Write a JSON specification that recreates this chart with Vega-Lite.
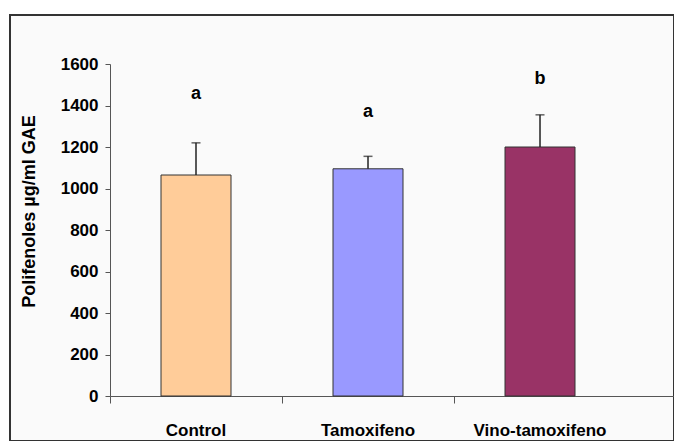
{
  "$schema": "https://vega.github.io/schema/vega-lite/v6.json",
  "width": 664,
  "height": 426,
  "autosize": {"type": "none"},
  "padding": {"left": 10, "top": 15, "right": 0, "bottom": 0},
  "background": "white",
  "config": {
    "view": {"stroke": "#333333", "strokeWidth": 2, "fill": "#fafafa"},
    "font": "Liberation Sans"
  },
  "data": {
    "values": [
      {"grupo": "Control", "polifenoles": 1065, "error_sup": 1220, "letra": "a", "pos_letra": 1430},
      {"grupo": "Tamoxifeno", "polifenoles": 1095, "error_sup": 1155, "letra": "a", "pos_letra": 1345},
      {"grupo": "Vino-tamoxifeno", "polifenoles": 1200, "error_sup": 1355, "letra": "b", "pos_letra": 1505}
    ]
  },
  "encoding": {
    "x": {
      "field": "grupo",
      "type": "nominal",
      "sort": null,
      "scale": {"range": [100, 664], "paddingInner": 0, "paddingOuter": 0.1395, "align": 0},
      "axis": {
        "title": null,
        "labelAngle": 0,
        "bandPosition": 0,
        "offset": -45,
        "domainColor": "#555555",
        "tickColor": "#555555",
        "tickSize": 7,
        "labelPadding": 19,
        "labelFont": "Liberation Sans",
        "labelFontWeight": "bold",
        "labelFontSize": 17,
        "labelColor": "black",
        "labelBaseline": "top"
      }
    }
  },
  "layer": [
    {
      "mark": {"type": "bar", "size": 70, "stroke": "#333333", "strokeWidth": 1},
      "encoding": {
        "y": {
          "field": "polifenoles",
          "type": "quantitative",
          "title": "Polifenoles µg/ml GAE",
          "scale": {"domain": [0, 1600], "range": [381, 49], "nice": false, "zero": true},
          "axis": {
            "values": [0, 200, 400, 600, 800, 1000, 1200, 1400, 1600],
            "format": "d",
            "offset": -100,
            "grid": false,
            "domainColor": "#555555",
            "tickColor": "#555555",
            "tickSize": 5,
            "labelPadding": 7,
            "labelFont": "Liberation Sans",
            "labelFontWeight": "bold",
            "labelFontSize": 17,
            "labelColor": "black",
            "titleFont": "Liberation Sans",
            "titleFontSize": 18,
            "titleFontWeight": "bold",
            "titleColor": "black",
            "titleAngle": -90,
            "titleAlign": "center",
            "titleBaseline": "middle",
            "titleX": -81,
            "titleY": 196
          }
        },
        "color": {
          "field": "grupo",
          "type": "nominal",
          "scale": {"domain": ["Control", "Tamoxifeno", "Vino-tamoxifeno"], "range": ["#FFCC99", "#9999FF", "#993366"]},
          "legend": null
        }
      }
    },
    {
      "mark": {"type": "rule", "color": "#222222", "strokeWidth": 1.5},
      "encoding": {
        "y": {"field": "polifenoles", "type": "quantitative", "title": "Polifenoles µg/ml GAE"},
        "y2": {"field": "error_sup"}
      }
    },
    {
      "mark": {"type": "tick", "color": "#222222", "thickness": 1.5, "size": 9},
      "encoding": {
        "y": {"field": "error_sup", "type": "quantitative", "title": "Polifenoles µg/ml GAE"}
      }
    },
    {
      "mark": {"type": "text", "fontWeight": "bold", "fontSize": 18, "baseline": "alphabetic", "font": "Liberation Sans", "color": "black"},
      "encoding": {
        "y": {"field": "pos_letra", "type": "quantitative", "title": "Polifenoles µg/ml GAE"},
        "text": {"field": "letra"}
      }
    }
  ]
}
